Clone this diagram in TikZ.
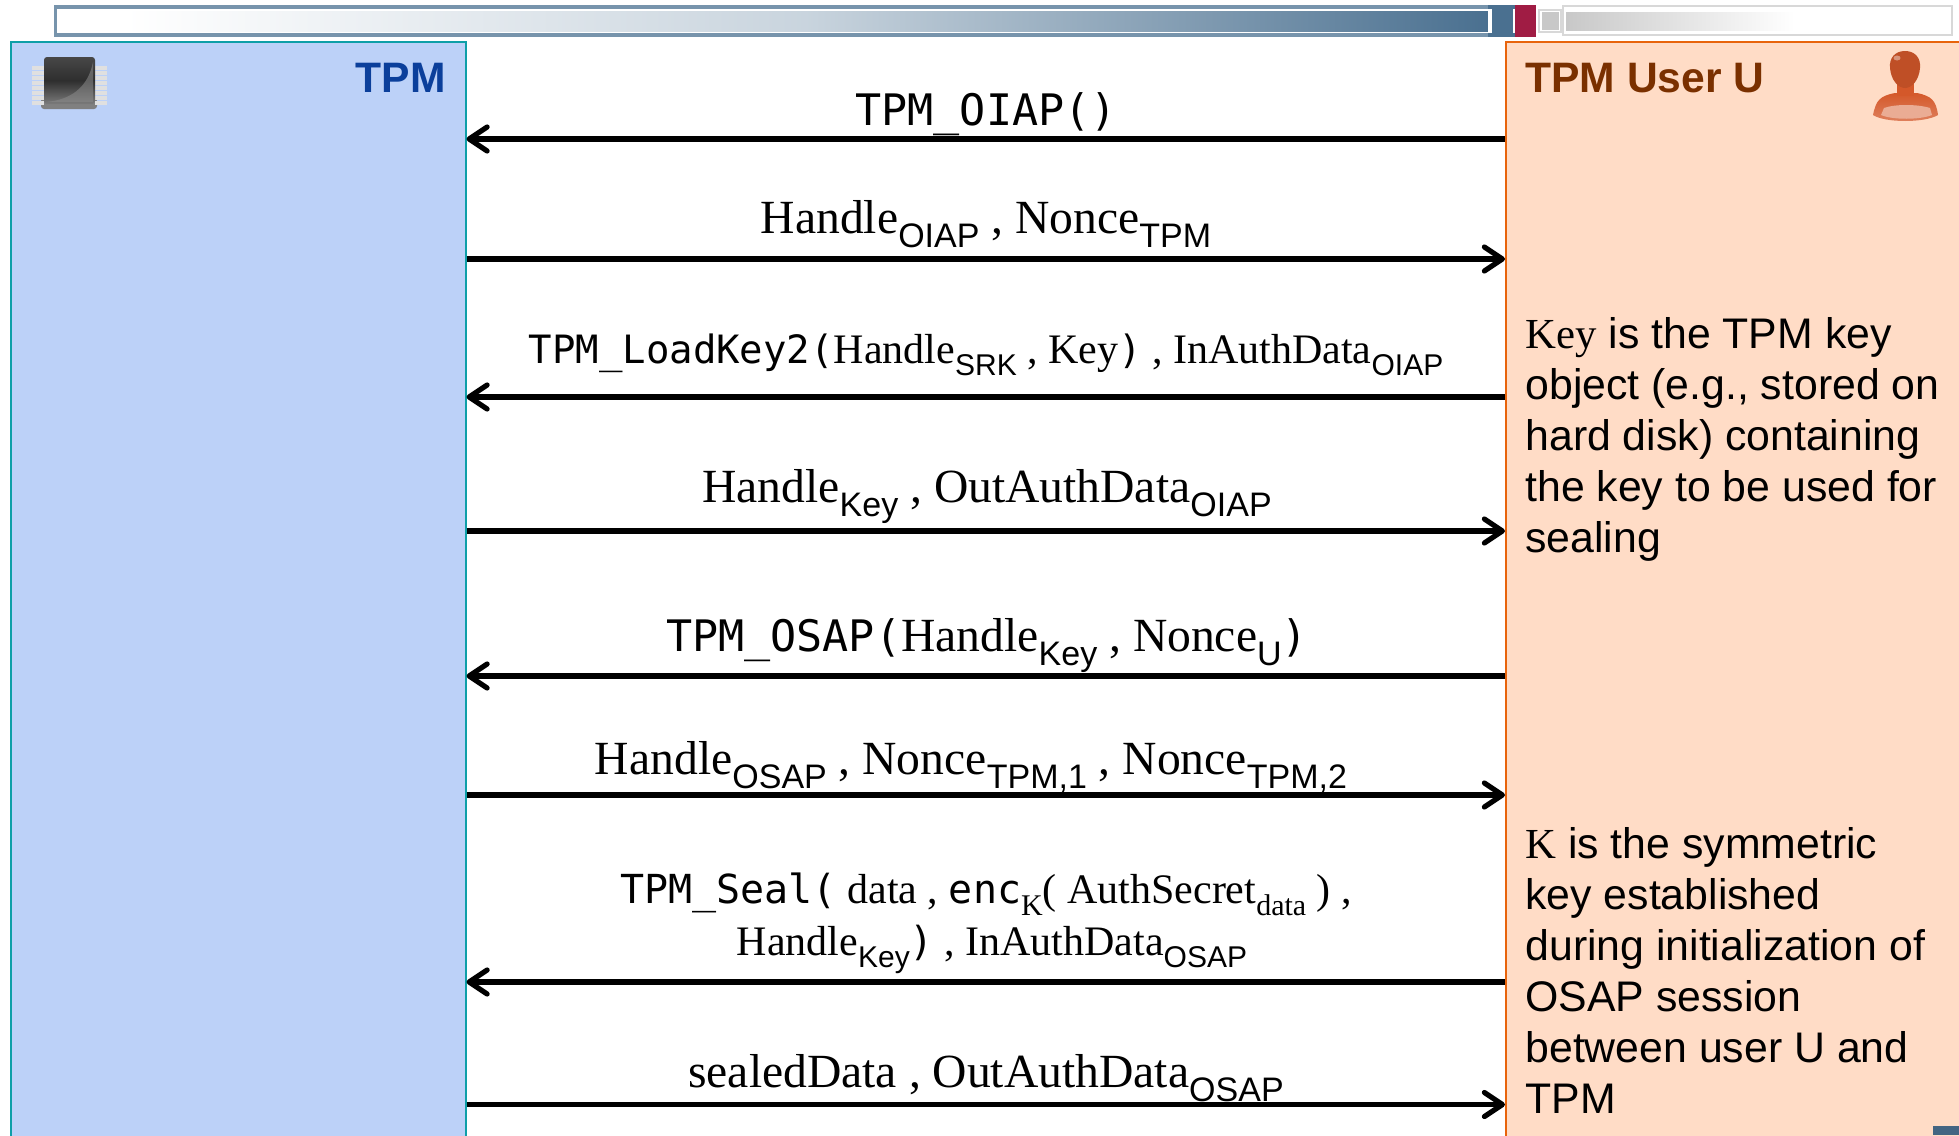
\documentclass[tikz,border=0pt]{standalone}
\usepackage{fontspec}
\setmainfont{Liberation Serif}
\newfontfamily\arial{Liberation Sans}
\newfontfamily\mono{DejaVu Sans Mono}
\usetikzlibrary{arrows.meta,shadings}
\definecolor{lanebluefill}{HTML}{BCD1F8}
\definecolor{laneblueline}{HTML}{0E9FA8}
\definecolor{laneorfill}{HTML}{FFDCC6}
\definecolor{laneorline}{HTML}{E8640C}
\definecolor{tpmtitle}{HTML}{0B3F9B}
\definecolor{usertitle}{HTML}{7A3000}
\definecolor{barblue}{HTML}{4A7090}
\definecolor{barred}{HTML}{A01C44}
\definecolor{bargrey}{HTML}{C8C8C8}
\definecolor{bodyor}{HTML}{D4582A}
\def\subsz{17}
\def\mnsz{21.7}
\newcommand{\lo}[1]{\raisebox{-.3em}{\arial\fontsize{\subsz}{\subsz}\selectfont #1}}
\newcommand{\tlo}[1]{\raisebox{-.3em}{\fontsize{\subsz}{\subsz}\selectfont #1}}
\newcommand{\mn}[1]{{\mono\fontsize{\mnsz}{\mnsz}\selectfont #1}}
\tikzset{
  x=0.5pt,y=-0.5pt,
  msg/.style={line width=2.6pt,-{Straight Barb[length=9pt,width=12pt,line width=2.6pt,round]}},
  biglabel/.style={anchor=base,inner sep=0pt,font=\fontsize{23.8}{25}\selectfont},
  smalllabel/.style={anchor=base,inner sep=0pt,font=\fontsize{21}{25}\selectfont},
  lane/.style={anchor=north west,minimum width=#1*0.5pt,minimum height=560pt,inner sep=0pt,line width=1pt},
  lanetitle/.style={inner sep=0pt,font=\arial\bfseries\fontsize{21.3}{25}\selectfont},
  sidetext/.style={anchor=north west,inner sep=0pt,align=left,font=\arial\fontsize{21.4}{25.5}\selectfont},
}
\begin{document}
\begin{tikzpicture}
\useasboundingbox (0,0) rectangle (1959,1135);
\clip (0,0) rectangle (1959,1135);
% header bar
\fill[barblue!75] (54,5) rectangle (1490,37);
\fill[white] (57,9) rectangle (1488,33);
\shade[left color=white,right color=barblue,middle color=barblue!30] (125,11) rectangle (1488,31);
\fill[barblue] (1488,5) rectangle (1515,37);
\fill[white] (1488,9) rectangle (1492,33);
\fill[white] (1513,9) rectangle (1515,33);
\fill[barblue] (1492,11) rectangle (1513,31);
\fill[barred] (1515,5) rectangle (1536,37);
\draw[line width=.8pt,bargrey!70] (1539,10) rectangle (1561,32);
\fill[bargrey] (1542,12) rectangle (1559,30);
\draw[line width=1.2pt,bargrey!70] (1563,6) rectangle (1952,35);
\shade[left color=bargrey,right color=white] (1566,12) rectangle (1795,30);
% lanes
\node[lane=455,draw=laneblueline,fill=lanebluefill] (tpm) at (10,41) {};
\node[lane=500,draw=laneorline,fill=laneorfill] (user) at (1505,41) {};
\node[lanetitle,text=tpmtitle,anchor=base east] (tpmtitle) at (446,92) {TPM};
\node[lanetitle,text=usertitle,anchor=base west] (usertitle) at (1525,92) {TPM User U};
% chip icon
\fill[black!50,rounded corners=1.5pt] (41,98) rectangle (97,109);
\foreach \yy in {66,71,...,101}{
  \fill[black!12] (32,\yy) rectangle (44,\yy+3.8);
  \fill[black!12] (95,\yy) rectangle (107,\yy+3.8);
}
\shade[top color=black!72,bottom color=black!52,middle color=black!82,rounded corners=1.5pt] (44,57) rectangle (95,104);
\fill[black!45,opacity=.55] (46,102) .. controls (70,100) and (88,88) .. (93,62) -- (93,102) -- cycle;
% user icon
\shade[top color=bodyor,bottom color=bodyor!75] (1873,115) .. controls (1876,100) and (1880,96) .. (1895,93) -- (1917,93) .. controls (1931,96) and (1936,100) .. (1938,115) .. controls (1925,123) and (1885,123) .. (1873,115) -- cycle;
\fill[bodyor!50!white] (1884,108) .. controls (1895,104) and (1917,104) .. (1930,108) -- (1932,115) .. controls (1920,120) and (1892,120) .. (1881,115) -- cycle;
\fill[bodyor] (1897,80) rectangle (1914,96);
\fill[bodyor!90!black] (1905,51) .. controls (1915,51) and (1921,58) .. (1920,68) .. controls (1919,80) and (1912,88) .. (1905,88) .. controls (1898,88) and (1891,80) .. (1890,68) .. controls (1889,58) and (1895,51) .. (1905,51) -- cycle;
\fill[white,opacity=.4] (1897,58) ellipse [x radius=3.5,y radius=2.5];
% endpoints
\foreach \n/\yy in {1/139,2/259,3/397,4/531,5/676,6/795,7/982,8/1104.5}{
  \coordinate (t\n) at (466.5,\yy);
  \coordinate (u\n) at (1505,\yy);
}
\draw[msg] (u1) -- (t1);
\draw[msg] (t2) -- (u2);
\draw[msg] (u3) -- (t3);
\draw[msg] (t4) -- (u4);
\draw[msg] (u5) -- (t5);
\draw[msg] (t6) -- (u6);
\draw[msg] (u7) -- (t7);
\draw[msg] (t8) -- (u8);
% labels
\node[biglabel] (m1) at (986,125) {\mn{TPM\_OIAP()}};
\node[biglabel] (m2) at (986,233) {Handle\lo{OIAP} , Nonce\lo{TPM}};
\def\subsz{15}\def\mnsz{19.5}
\node[smalllabel] (m3) at (986,363) {\mn{TPM\_LoadKey2(}Handle\lo{SRK} , Key\mn{)} , InAuthData\lo{OIAP}};
\def\subsz{17}\def\mnsz{21.7}
\node[biglabel] (m4) at (987,502) {Handle\lo{Key} , OutAuthData\lo{OIAP}};
\node[biglabel] (m5) at (987,651) {\mn{TPM\_OSAP(}Handle\lo{Key} , Nonce\lo{U}\mn{)}};
\node[biglabel] (m6) at (971,774) {Handle\lo{OSAP} , Nonce\lo{TPM,1} , Nonce\lo{TPM,2}};
\def\subsz{15}\def\mnsz{20}
\node[smalllabel] (m7a) at (986,903) {\mn{TPM\_Seal(} data , \mn{enc}\tlo{K}( AuthSecret\tlo{data} ) ,};
\node[smalllabel] (m7b) at (992,955) {Handle\lo{Key}\mn{)} , InAuthData\lo{OSAP}};
\def\subsz{17}\def\mnsz{21.7}
\node[biglabel] (m8) at (986,1087) {sealedData , OutAuthData\lo{OSAP}};
% side notes
\node[sidetext] (n1) at (1525,317) {{\rmfamily Key} is the TPM key\\object (e.g., stored on\\hard disk) containing\\the key to be used for\\sealing};
\node[sidetext] (n2) at (1525,827) {{\rmfamily K} is the symmetric\\key established\\during initialization of\\OSAP session\\between user U and\\TPM};
\fill[barblue!90!black] (1933,1126) rectangle (1959,1135);
\end{tikzpicture}
\end{document}
